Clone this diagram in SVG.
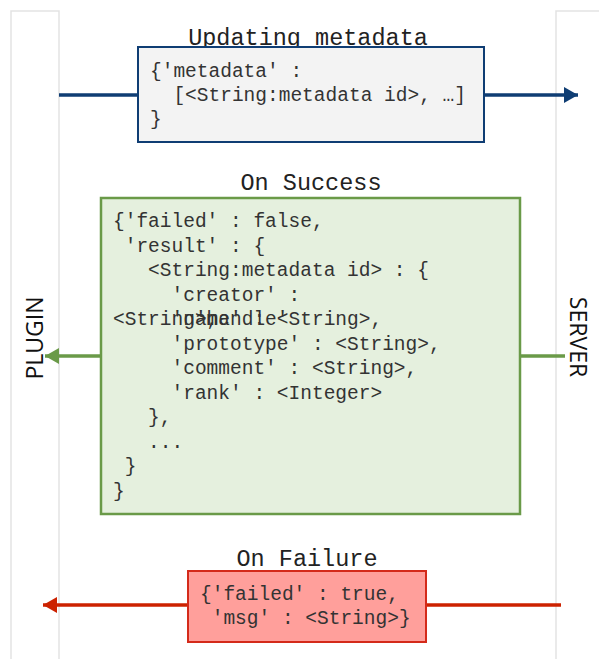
<svg xmlns="http://www.w3.org/2000/svg" width="599" height="659" viewBox="0 0 599 659">
<style>
.life{fill:#ffffff;stroke:#e3e3e3;stroke-width:1.5}
.actor{font-family:"Open Sans","Noto Sans","Liberation Sans",sans-serif;font-size:23px;fill:#111}
.title{font-family:"Liberation Mono",monospace;font-size:23.5px;fill:#222;text-anchor:middle}
.code{font-family:"Liberation Mono",monospace;font-size:19.5px;fill:#333;white-space:pre}
</style>
<defs>
<marker id="ab" markerUnits="userSpaceOnUse" markerWidth="16" markerHeight="18" refX="14" refY="9" orient="auto"><path d="M0,1 L14,9 L0,17 Z" fill="#0f3d73"/></marker>
<marker id="ag" markerUnits="userSpaceOnUse" markerWidth="16" markerHeight="18" refX="14" refY="9" orient="auto"><path d="M0,1 L14,9 L0,17 Z" fill="#6a9a48"/></marker>
<marker id="ar" markerUnits="userSpaceOnUse" markerWidth="16" markerHeight="18" refX="14" refY="9" orient="auto"><path d="M0,1 L14,9 L0,17 Z" fill="#cc2200"/></marker>
</defs>
<g id="plugin">
<rect class="life" x="11" y="11" width="48" height="660"/>
<text class="actor" transform="translate(43,338) rotate(-90)" text-anchor="middle">PLUGIN</text>
</g>
<g id="server">
<rect class="life" x="556" y="11" width="50" height="660"/>
<text class="actor" transform="translate(570,337) rotate(90)" text-anchor="middle">SERVER</text>
</g>
<g id="connectors" fill="none" stroke-width="3.5">
<line x1="59" y1="95" x2="138" y2="95" stroke="#0f3d73"/>
<line x1="484" y1="95" x2="578" y2="95" stroke="#0f3d73" marker-end="url(#ab)"/>
<line x1="565" y1="356" x2="520" y2="356" stroke="#6a9a48"/>
<line x1="101" y1="356" x2="45" y2="356" stroke="#6a9a48" marker-end="url(#ag)"/>
<line x1="561" y1="605" x2="426" y2="605" stroke="#cc2200"/>
<line x1="188" y1="605" x2="43" y2="605" stroke="#cc2200" marker-end="url(#ar)"/>
</g>
<g id="request">
<text class="title" x="308" y="45">Updating metadata</text>
<rect x="138" y="47" width="346" height="95" fill="#f3f3f3" stroke="#0f3d73" stroke-width="2"/>
<text class="code" x="150" y="77">{'metadata' :</text>
<text class="code" x="150" y="101">  [&lt;String:metadata id&gt;, …]</text>
<text class="code" x="150" y="125">}</text>
</g>
<g id="success">
<text class="title" x="311" y="190">On Success</text>
<rect x="101" y="198" width="419" height="316" fill="#e5f0de" stroke="#6a9a48" stroke-width="2.5"/>
<text class="code" x="113" y="227">{'failed' : false,</text>
<text class="code" x="113" y="251.5"> 'result' : {</text>
<text class="code" x="113" y="276">   &lt;String:metadata id&gt; : {</text>
<text class="code" x="113" y="300.5">     'creator' :</text>
<text class="code" x="113" y="325">&lt;String&gt;,</text>
<text class="code" x="113" y="325">     'name' : &lt;String&gt;,</text>
<text class="code" x="113" y="325">       'handle'</text>
<text class="code" x="113" y="349.5">     'prototype' : &lt;String&gt;,</text>
<text class="code" x="113" y="374">     'comment' : &lt;String&gt;,</text>
<text class="code" x="113" y="398.5">     'rank' : &lt;Integer&gt;</text>
<text class="code" x="113" y="423">   },</text>
<text class="code" x="113" y="447.5">   ...</text>
<text class="code" x="113" y="472"> }</text>
<text class="code" x="113" y="496.5">}</text>
</g>
<g id="failure">
<text class="title" x="307" y="566">On Failure</text>
<rect x="188" y="571" width="238" height="71" fill="#ff9f9b" stroke="#d42a1a" stroke-width="2"/>
<text class="code" x="200" y="600">{'failed' : true,</text>
<text class="code" x="200" y="624"> 'msg' : &lt;String&gt;}</text>
</g>
</svg>
